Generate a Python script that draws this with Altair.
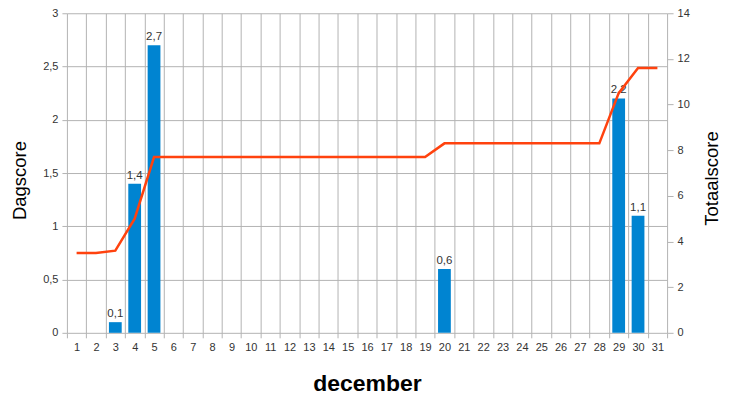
import altair as alt
import pandas as pd

days = list(range(1, 32))
dagscore = [0, 0, 0.1, 1.4, 2.7, 0, 0, 0, 0, 0,
            0, 0, 0, 0, 0, 0, 0, 0, 0, 0.6,
            0, 0, 0, 0, 0, 0, 0, 0, 2.2, 1.1, 0]
totalscore = [3.5, 3.5, 3.6, 5.0, 7.7, 7.7, 7.7, 7.7, 7.7, 7.7,
              7.7, 7.7, 7.7, 7.7, 7.7, 7.7, 7.7, 7.7, 7.7, 8.3,
              8.3, 8.3, 8.3, 8.3, 8.3, 8.3, 8.3, 8.3, 10.5, 11.6, 11.6]
left_ticks = [0, 0.25, 0.5, 0.75, 1, 1.25, 1.5, 1.75, 2, 2.25, 2.5, 2.75, 3]
right_ticks = [0, 2, 4, 6, 8, 10, 12, 14]

df = pd.DataFrame({"day": days, "dag": dagscore, "tot": totalscore})

FONT = "Liberation Sans"
GRID = "#b3b3b3"
MINOR = "#dedede"

x = alt.X("day:O", title="december",
          scale=alt.Scale(paddingInner=0, paddingOuter=0),
          axis=alt.Axis(labelAngle=0, tickBand="extent", grid=True, gridColor=GRID,
                        tickColor=GRID, tickSize=5, domain=False,
                        labelColor="#333333", labelFontSize=11, labelPadding=4,
                        titleFontSize=23, titleFontWeight="bold", titleColor="#000000",
                        titlePadding=20))

bars = alt.Chart(df).mark_bar(color="#0084d1", width={"band": 0.66}).encode(
    x=x,
    y=alt.Y("dag:Q", title="Dagscore",
            scale=alt.Scale(domain=[0, 3], nice=False),
            axis=alt.Axis(values=left_ticks, grid=True, domain=False,
                          gridColor={"condition": {"test": "datum.value % 0.5 !== 0", "value": MINOR}, "value": GRID},
                          tickColor={"condition": {"test": "datum.value % 0.5 !== 0", "value": "transparent"}, "value": GRID},
                          tickSize=5,
                          labelExpr="datum.value % 0.5 !== 0 ? '' : replace(format(datum.value, '~g'), '.', ',')",
                          labelColor="#333333", labelFontSize=11, labelPadding=4,
                          titleFontSize=18.5, titleFontWeight="normal", titleColor="#000000",
                          titlePadding=13, titleY=167)),
)

labels = alt.Chart(df).transform_filter("datum.dag > 0").transform_calculate(
    lab="replace(format(datum.dag, '.1f'), '.', ',')"
).mark_text(dy=-8, fontSize=11.5, color="#333333", font=FONT).encode(
    x=x,
    y=alt.Y("dag:Q"),
    text="lab:N",
)

line = alt.Chart(df).mark_line(color="#ff420e", strokeWidth=2.5).encode(
    x=x,
    y=alt.Y("tot:Q", title="Totaalscore",
            scale=alt.Scale(domain=[0, 14], nice=False),
            axis=alt.Axis(orient="right", values=right_ticks, grid=False, domain=False,
                          tickColor=GRID, tickSize=6,
                          labelColor="#333333", labelFontSize=11, labelPadding=4,
                          titleFontSize=18.5, titleFontWeight="normal", titleColor="#000000",
                          titleAngle=270, titlePadding=32, titleY=165)),
)

chart = alt.layer(alt.layer(bars, labels), line).resolve_scale(y="independent").properties(
    width=601, height=320,
    autosize=alt.AutoSizeParams(type="none"),
    padding={"left": 59, "top": 5, "right": 57, "bottom": 66},
).configure(font=FONT).configure_view(stroke=None)

chart.save("out.html", embed_options={"renderer": "svg", "actions": False})
